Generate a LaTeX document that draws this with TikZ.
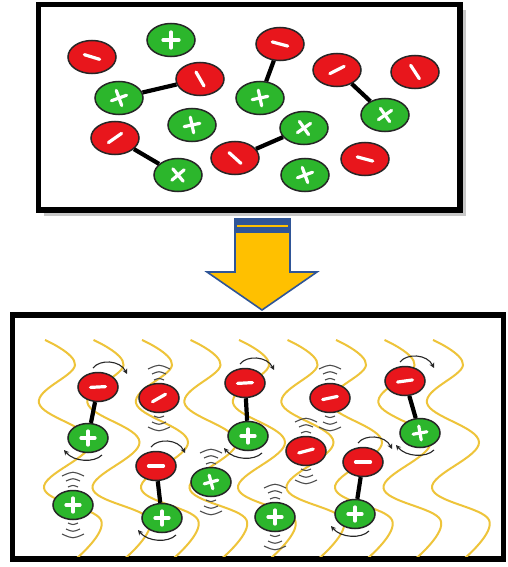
\documentclass[tikz,border=0pt]{standalone}
\usetikzlibrary{shapes.geometric,arrows.meta}

\definecolor{ionred}{RGB}{232,22,28}
\definecolor{iongreen}{RGB}{44,182,44}
\definecolor{wavegold}{RGB}{238,196,58}
\definecolor{arrowfill}{RGB}{255,192,0}
\definecolor{arrowblue}{RGB}{47,85,151}

\tikzset{
  frame/.style={line width=5.5pt, black},
  boxshadow/.style={line width=4pt, black!22},
  anion/.style={ellipse, inner sep=0pt, draw=black!85, line width=1.5pt, fill=ionred},
  cation/.style={ellipse, inner sep=0pt, draw=black!85, line width=1.5pt, fill=iongreen},
  topsize/.style={minimum width=48pt, minimum height=33pt},
  botsize/.style={minimum width=40pt, minimum height=29pt},
  signbar/.style={white, line width=3.2pt, line cap=round},
  bond/.style={line width=4.2pt, black},
  wave/.style={wavegold, line width=2pt},
  spin/.style={-{Stealth[length=5pt,width=5pt]}, line width=1.1pt, black!85},
  vib/.style={line width=1.1pt, black!70},
}

% white sign bars on an ion: node, angle, half length
\newcommand\negmark[3]{\draw[signbar, shift={(#1.center)}, rotate=#2] (-#3,0) -- (#3,0);}
\newcommand\posmark[3]{\draw[signbar, shift={(#1.center)}, rotate=#2] (-#3,0) -- (#3,0) (0,-#3) -- (0,#3);}
% rotation arrow over the top of an ion
\newcommand\spintop[1]{\draw[spin] ([shift={(-5,-19)}]#1.center) .. controls ([shift={(2,-28)}]#1.center) and ([shift={(22,-27)}]#1.center) .. ([shift={(29,-13)}]#1.center);}
% rotation arrow under an ion
\newcommand\spinbot[1]{\draw[spin] ([shift={(14,17)}]#1.center) .. controls ([shift={(6,25)}]#1.center) and ([shift={(-14,24)}]#1.center) .. ([shift={(-24,12)}]#1.center);}
% vibration strokes above and below an ion
\newcommand\vibmarks[1]{%
  \draw[vib] ([shift={(-5,-18)}]#1.center) .. controls ([shift={(0,-20)}]#1.center) .. ([shift={(5,-18)}]#1.center);
  \draw[vib] ([shift={(-7,-24)}]#1.center) .. controls ([shift={(0,-27)}]#1.center) .. ([shift={(7,-24)}]#1.center);
  \draw[vib] ([shift={(-11,-29)}]#1.center) .. controls ([shift={(0,-34)}]#1.center) .. ([shift={(11,-29)}]#1.center);
  \draw[vib] ([shift={(-5,18)}]#1.center) .. controls ([shift={(0,20)}]#1.center) .. ([shift={(5,18)}]#1.center);
  \draw[vib] ([shift={(-7,24)}]#1.center) .. controls ([shift={(0,27)}]#1.center) .. ([shift={(7,24)}]#1.center);
  \draw[vib] ([shift={(-11,29)}]#1.center) .. controls ([shift={(0,34)}]#1.center) .. ([shift={(11,29)}]#1.center);
}

\begin{document}
\begin{tikzpicture}[x=1pt,y=-1pt]
\useasboundingbox (0,0) rectangle (507,567);
\fill[white] (0,0) rectangle (507,567);

% ---------- upper panel: free ions and ion pairs ----------
\draw[boxshadow] (464,10) -- (464,214) -- (44,214);
\draw[frame] (38.5,4.5) rectangle (460,210);

\node[anion, topsize]  (t1)  at (92,57)  {};
\node[cation, topsize] (t2)  at (171,40) {};
\node[anion, topsize]  (t3)  at (280,44) {};
\node[anion, topsize]  (t4)  at (337,70) {};
\node[anion, topsize]  (t5)  at (415,72) {};
\node[cation, topsize] (t6)  at (119,98) {};
\node[anion, topsize]  (t7)  at (200,79) {};
\node[cation, topsize] (t8)  at (260,98) {};
\node[cation, topsize] (t9)  at (385,115) {};
\node[cation, topsize] (t10) at (192,125) {};
\node[anion, topsize]  (t11) at (115,138) {};
\node[cation, topsize] (t12) at (304,128) {};
\node[anion, topsize]  (t13) at (235,158) {};
\node[cation, topsize] (t14) at (178,175) {};
\node[cation, topsize] (t15) at (305,175) {};
\node[anion, topsize]  (t16) at (365,159) {};

\draw[bond] (t6) -- (t7);
\draw[bond] (t3) -- (t8);
\draw[bond] (t4) -- (t9);
\draw[bond] (t11) -- (t14);
\draw[bond] (t13) -- (t12);

\negmark{t1}{-17}{8}
\posmark{t2}{0}{8}
\negmark{t3}{-15}{8}
\negmark{t4}{27}{8}
\negmark{t5}{-57}{8}
\posmark{t6}{20}{8}
\negmark{t7}{-60}{8}
\posmark{t8}{12}{8}
\posmark{t9}{35}{8}
\posmark{t10}{12}{8}
\negmark{t11}{35}{8}
\posmark{t12}{35}{8}
\negmark{t13}{-42}{8}
\posmark{t14}{40}{8}
\posmark{t15}{20}{8}
\negmark{t16}{-15}{8}

% ---------- block arrow ----------
\draw[arrowblue, line width=1.6pt, fill=arrowfill, line join=miter]
  (235,219) -- (290,219) -- (290,272) -- (317,272) -- (262,310)
  -- (207,272) -- (235,272) -- cycle;
\fill[arrowblue] (235,219) rectangle (290,233);
\draw[arrowfill, line width=1.4pt] (237,226) -- (288,226);

% ---------- lower panel: ions in a solvent ----------
\draw[frame] (12.5,315) rectangle (503.5,559);

\begin{scope}
  \clip (15.5,318) rectangle (500.5,556);
  \foreach \x in {45,93.5,142,190.5,239,287.5,336,384.5,433} {
    \draw[wave, shift={(\x,0)}] plot[smooth, tension=0.65] coordinates
      {(0,340) (30,365) (-6,403) (46,442) (-1,488) (56,520) (32,558)};
  }
\end{scope}

\node[anion, botsize]  (ba) at (98,387)  {};
\node[cation, botsize] (bb) at (88,438)  {};
\node[anion, botsize]  (bc) at (159,398) {};
\node[anion, botsize]  (bd) at (156,466) {};
\node[cation, botsize] (be) at (73,505)  {};
\node[cation, botsize] (bf) at (162,518) {};
\node[cation, botsize] (bg) at (211,482) {};
\node[anion, botsize]  (bh) at (245,383) {};
\node[cation, botsize] (bi) at (248,436) {};
\node[anion, botsize]  (bj) at (330,398) {};
\node[anion, botsize]  (bk) at (306,451) {};
\node[anion, botsize]  (bl) at (363,462) {};
\node[cation, botsize] (bm) at (355,514) {};
\node[cation, botsize] (bn) at (275,517) {};
\node[anion, botsize]  (bo) at (405,381) {};
\node[cation, botsize] (bp) at (420,433) {};

\draw[bond] (ba) -- (bb);
\draw[bond] (bd) -- (bf);
\draw[bond] (bh) -- (bi);
\draw[bond] (bl) -- (bm);
\draw[bond] (bo) -- (bp);

\negmark{ba}{3}{7.5}
\posmark{bb}{0}{7}
\negmark{bc}{30}{7.5}
\negmark{bd}{0}{7.5}
\posmark{be}{0}{7}
\posmark{bf}{0}{7}
\posmark{bg}{15}{7}
\negmark{bh}{3}{7.5}
\posmark{bi}{0}{7}
\negmark{bj}{12}{7.5}
\negmark{bk}{15}{7.5}
\negmark{bl}{0}{7.5}
\posmark{bm}{0}{7}
\posmark{bn}{0}{7}
\negmark{bo}{8}{7.5}
\posmark{bp}{10}{7}

\spintop{ba} \spintop{bd} \spintop{bh} \spintop{bl} \spintop{bo}
\spinbot{bb} \spinbot{bf} \spinbot{bi} \spinbot{bm} \spinbot{bp}

\vibmarks{bc} \vibmarks{be} \vibmarks{bg}
\vibmarks{bj} \vibmarks{bk} \vibmarks{bn}
\end{tikzpicture}
\end{document}
